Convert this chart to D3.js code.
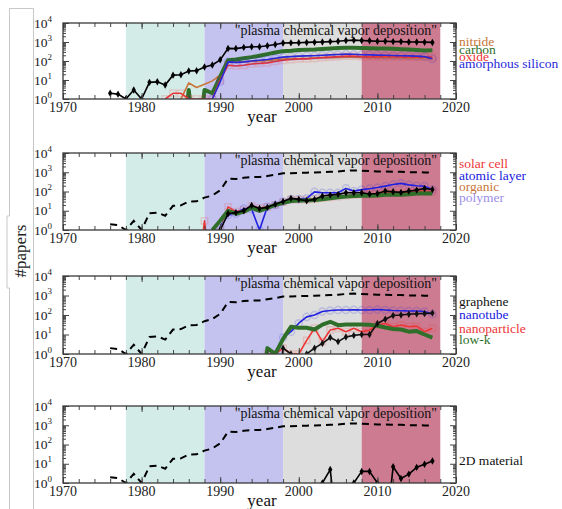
<!DOCTYPE html>
<html>
<head>
<meta charset="utf-8">
<script src="https://cdn.jsdelivr.net/npm/d3@7"></script>
<style>
  body { margin: 0; background: #fff; }
  svg { display: block; font-family: "Liberation Serif", "Times New Roman", serif; }
</style>
</head>
<body>
<script>
// ---- data ----
// total "plasma chemical vapor deposition" papers, 1976..2017
const totalStart = 1976;
const total = [2, 1.8, 1, 3, 1, 7.5, 8, 5.5, 18, 19, 30, 31, 48, 62, 115, 460, 450, 520, 560, 560,
  640, 740, 880, 900, 920, 950, 980, 1000, 1050, 1100, 1200, 1250, 1200, 1150, 1100, 1100,
  1050, 1050, 1000, 1000, 980, 950];

// panel 1, 1983..2017
const p1Start = 1983;
const nitride = [null, null, 1, 7, 4, 6, 9, 18, 100, 85, 90, 95, 100, 105, 115, 125, 130, 135, 140, 145,
  150, 150, 155, 160, 160, 155, 150, 150, 150, 145, 145, 140, 140, 140, 135];
const carbon = [null, null, 0, 3, 0, 3, 2, 15, 110, 120, 140, 160, 190, 230, 280, 330, 350, 380, 390, 400,
  430, 460, 480, 500, 500, 490, 470, 460, 460, 440, 420, 400, 380, 360, 370];
const oxide = [1, 2, 2, 1, 1, 1, 1, 10, 60, 55, 60, 70, 75, 80, 95, 110, 120, 130, 130, 140,
  150, 160, 170, 180, 180, 170, 165, 165, 170, 170, 165, 160, 160, 165, 160];
const amorphousSi = [null, null, null, null, null, null, 1, 8, 90, 85, 90, 100, 110, 120, 140, 160, 170, 180, 185, 190,
  200, 210, 220, 230, 225, 215, 210, 205, 200, 195, 190, 185, 180, 170, 130];

// panel 2, 1987..2017
const p2Start = 1987;
const solarCell = [0, 3, 0, 1, 16, 9, 11, 18, 14, 16, 20, 28, 38, 38, 38, 40, 45, 50, 55, 62,
  66, 70, 72, 75, 82, 85, 85, 90, 100, 105, 100];
const atomicLayer = [null, null, 0, 1.5, 6, 7, 13, 12, 1, 16, 20, 30, 40, 40, 44, 96, 86, 86, 86, 145,
  105, 125, 140, 160, 190, 230, 265, 220, 200, 190, 125];
const organic = [null, null, null, 1, 9, 7, 9, 13, 10, 13, 18, 24, 30, 32, 33, 35, 40, 45, 50, 54,
  57, 60, 60, 62, 66, 68, 68, 72, 76, 80, 78];
const polymer = [null, null, null, 1, 8, 6, 8, 12, 9, 12, 17, 22, 28, 30, 31, 33, 38, 42, 46, 50,
  53, 56, 57, 60, 64, 66, 66, 70, 74, 76, 74];
const p2Green = [null, null, 1, 3, 10, 7, 9, 14, 10, 14, 20, 26, 32, 34, 34, 36, 40, 45, 50, 55,
  58, 60, 60, 62, 68, 70, 68, 72, 78, 80, 78];
const p2Black = [null, null, null, 1, 7, 8, 10, 19, 13, 15, 22, 30, 44, 39, 33, 39, 58, 65, 71, 86,
  86, 86, 74, 79, 105, 97, 90, 105, 118, 144, 128];

// panel 3, 1995..2017
const p3Start = 1995;
const graphene = [null, null, 0, 2, 1, 0, 1, 2, 3.5, 7, 4.3, 7.5, 9, 10, 10, 37, 60, 95, 100, 110, 115, 120, 125];
const nanotube = [null, 0, 1, 7, 14, 38, 80, 100, 150, 170, 180, 180, 185, 180, 180, 190, 180, 170, 165, 160, 160, 150, 110];
const nanoparticle = [null, 1, 1, 2, 1, 1, 5, 21, 4.3, 17, 21, 14, 21, 14, 17, 31, 37, 25, 31, 25, 27, 14, 21];
const lowK = [0, 2, 1, 6, 25, 22, 22, 18, 32, 45, 30, 33, 33, 33, 32, 28, 23, 19, 18, 14, 15, 10, 7];

// panel 4, 2002..2017
const p4Start = 2002;
const material2D = [0, 1, 5, 0, 0, 1, 4, 4, 1, 0, 7, 1.7, 2.9, 6.5, 9.5, 14];

const eraBounds = [1978, 1988, 1998, 2008, 2018];
const eraColors = ['#d4ece8', '#c4c3ef', '#dcdddc', '#cd7b91'];
const xTickLabels = [1970, 1980, 1990, 2000, 2010, 2020];
const yTickValues = [1, 10, 100, 1000, 10000];

// ---- layout ----
const width = 562, height = 509;
const svg = d3.select('body').append('svg').attr('width', width).attr('height', height);

const x = d3.scaleLinear().domain([1970, 2020]).range([63, 456]);

const toPoints = (start, arr) => arr.map((v, i) => ({ year: start + i, v }));

const panels = [
  {
    top: 23, bottom: 99, totalStyle: 'solid',
    series: [
      { label: 'nitride', color: '#c8763a', data: toPoints(p1Start, nitride), w: 1.6 },
      { label: 'carbon', color: '#2f6f2a', data: toPoints(p1Start, carbon), w: 4 },
      { label: 'oxide', color: '#ee3535', data: toPoints(p1Start, oxide), w: 1.6, marker: 'square' },
      { label: 'amorphous silicon', color: '#2828d8', data: toPoints(p1Start, amorphousSi), w: 1.6, marker: 'circle' },
    ],
    legendY: [46, 53.5, 60.5, 67.5],
  },
  {
    top: 153, bottom: 230, totalStyle: 'dashed',
    series: [
      { label: 'solar cell', color: '#ee3535', data: toPoints(p2Start, solarCell), w: 1.6, marker: 'square' },
      { label: 'atomic layer', color: '#2020e0', data: toPoints(p2Start, atomicLayer), w: 1.6, marker: 'circle' },
      { label: 'organic', color: '#c8763a', data: toPoints(p2Start, organic), w: 1.6 },
      { label: 'polymer', color: '#9c8fe8', data: toPoints(p2Start, polymer), w: 1.6 },
      { label: null, color: '#2f6f2a', data: toPoints(p2Start, p2Green), w: 4 },
      { label: null, color: '#000', data: toPoints(p2Start, p2Black), w: 1.6, marker: 'diamond' },
    ],
    legendY: [168, 179.5, 190.5, 201.5],
  },
  {
    top: 276, bottom: 354, totalStyle: 'dashed',
    series: [
      { label: 'graphene', color: '#111', data: toPoints(p3Start, graphene), w: 1.6, marker: 'diamond', order: 3 },
      { label: 'nanotube', color: '#2020e0', data: toPoints(p3Start, nanotube), w: 1.6, marker: 'circle', order: 1 },
      { label: 'nanoparticle', color: '#ee3535', data: toPoints(p3Start, nanoparticle), w: 1.6, marker: 'square', order: 0 },
      { label: 'low-k', color: '#2f6f2a', data: toPoints(p3Start, lowK), w: 4, order: 2 },
    ],
    legendY: [306, 319, 332.5, 344],
  },
  {
    top: 406, bottom: 483, totalStyle: 'dashed',
    series: [
      { label: '2D material', color: '#000', data: toPoints(p4Start, material2D), w: 1.6, marker: 'diamond' },
    ],
    legendY: [465],
    legendColor: '#111',
  },
];

const minorY = [];
[1, 10, 100, 1000].forEach(d => { for (let k = 2; k <= 9; k++) minorY.push(d * k); });
const xTicks = d3.range(1970, 2021, 2);

const floorVal = 1e-3; // zero counts plunge off the bottom
const diamondSize = 16;

// left strip outline
svg.append('path')
  .attr('d', 'M9.5,509 V288 H7 V216 H9.5 V8.5 H33.5 V509')
  .attr('fill', 'none').attr('stroke', '#c8c8c8').attr('stroke-width', 1);
svg.append('text')
  .attr('transform', 'translate(26,251) rotate(-90)')
  .attr('text-anchor', 'middle')
  .attr('font-size', 17)
  .attr('fill', '#222')
  .text('#papers');

panels.forEach((p, i) => {
  const y = d3.scaleLog().domain([1, 1e4]).range([p.bottom, p.top]);
  const g = svg.append('g');
  const clipId = 'clip' + i;

  svg.append('clipPath').attr('id', clipId)
    .append('rect')
    .attr('x', x(1970)).attr('y', p.top)
    .attr('width', x(2020) - x(1970)).attr('height', p.bottom - p.top);

  // era backgrounds
  g.selectAll('rect.band')
    .data(eraColors)
    .enter()
    .append('rect')
    .attr('x', (d, j) => x(eraBounds[j]))
    .attr('width', (d, j) => x(eraBounds[j + 1]) - x(eraBounds[j]))
    .attr('y', p.top)
    .attr('height', p.bottom - p.top)
    .attr('fill', d => d);

  g.append('text')
    .attr('x', 437).attr('y', p.top + 11.5)
    .attr('text-anchor', 'end')
    .attr('font-size', 14)
    .attr('fill', '#111')
    .text('"plasma chemical vapor deposition"');

  const plot = g.append('g').attr('clip-path', `url(#${clipId})`);

  const line = d3.line()
    .defined(d => d.v != null)
    .x(d => x(d.year))
    .y(d => y(Math.max(d.v, floorVal)));

  // total line
  const totalData = toPoints(totalStart, total);
  plot.append('path')
    .datum(totalData)
    .attr('fill', 'none')
    .attr('stroke', '#000')
    .attr('stroke-width', p.totalStyle === 'solid' ? 1.6 : 2)
    .attr('stroke-dasharray', p.totalStyle === 'solid' ? null : '7,5')
    .attr('d', line);
  if (p.totalStyle === 'solid') {
    plot.append('g')
      .selectAll('path')
      .data(totalData)
      .enter()
      .append('path')
      .attr('transform', d => `translate(${x(d.year)},${y(d.v)})`)
      .attr('d', d3.symbol().type(d3.symbolDiamond).size(diamondSize))
      .attr('fill', '#000');
  }

  const ordered = p.series.slice().sort((a, b) => (a.order ?? 0) - (b.order ?? 0));
  ordered.forEach(s => {
    const pts = s.data.filter(d => d.v != null && d.v > 0);
    if (s.marker === 'square' || s.marker === 'circle') {
      plot.append('g')
        .selectAll('path')
        .data(pts)
        .enter()
        .append('path')
        .attr('transform', d => `translate(${x(d.year)},${y(d.v)})`)
        .attr('d', d3.symbol().type(s.marker === 'square' ? d3.symbolSquare : d3.symbolCircle).size(40))
        .attr('fill', 'none')
        .attr('stroke', s.color)
        .attr('stroke-opacity', 0.18)
        .attr('stroke-width', 1.5);
    }
    plot.append('path')
      .datum(s.data)
      .attr('fill', 'none')
      .attr('stroke', s.color)
      .attr('stroke-width', s.w)
      .attr('stroke-linejoin', 'round')
      .attr('d', line);
    if (s.marker === 'diamond') {
      plot.append('g')
        .selectAll('path')
        .data(pts)
        .enter()
        .append('path')
        .attr('transform', d => `translate(${x(d.year)},${y(d.v)})`)
        .attr('d', d3.symbol().type(d3.symbolDiamond).size(diamondSize))
        .attr('fill', s.color);
    }
  });

  // ticks, all pointing inward
  const tickAxis = (axis, tx, ty) => {
    const a = g.append('g').attr('transform', `translate(${tx},${ty})`).call(axis);
    a.select('.domain').remove();
    a.selectAll('line').attr('stroke', '#444').attr('stroke-width', 1);
    a.selectAll('text').remove();
  };
  tickAxis(d3.axisRight(y).tickValues(minorY).tickSize(3), x(1970), 0);
  tickAxis(d3.axisRight(y).tickValues(yTickValues).tickSize(6), x(1970), 0);
  tickAxis(d3.axisLeft(y).tickValues(minorY).tickSize(3), x(2020), 0);
  tickAxis(d3.axisLeft(y).tickValues(yTickValues).tickSize(6), x(2020), 0);
  tickAxis(d3.axisTop(x).tickValues(xTicks).tickSize(4), 0, p.bottom);
  tickAxis(d3.axisTop(x).tickValues(xTickLabels).tickSize(6), 0, p.bottom);
  tickAxis(d3.axisBottom(x).tickValues(xTicks).tickSize(4), 0, p.top);
  tickAxis(d3.axisBottom(x).tickValues(xTickLabels).tickSize(6), 0, p.top);

  g.append('rect')
    .attr('x', x(1970)).attr('y', p.top)
    .attr('width', x(2020) - x(1970)).attr('height', p.bottom - p.top)
    .attr('fill', 'none').attr('stroke', '#3a3a3a').attr('stroke-width', 1.3);

  // y tick labels 10^n
  const yl = g.selectAll('text.ylab')
    .data(yTickValues)
    .enter()
    .append('text')
    .attr('class', 'ylab')
    .attr('x', 34)
    .attr('y', d => y(d) + 4.5)
    .attr('font-size', 13.5)
    .attr('fill', '#222');
  yl.append('tspan').text('10');
  yl.append('tspan').attr('dy', -6).attr('font-size', 9).text(d => Math.round(Math.log10(d)));

  // x tick labels
  g.selectAll('text.xlab')
    .data(xTickLabels)
    .enter()
    .append('text')
    .attr('x', d => x(d))
    .attr('y', p.bottom + 13)
    .attr('text-anchor', 'middle')
    .attr('font-size', 14)
    .attr('fill', '#222')
    .text(d => d);

  g.append('text')
    .attr('x', 262).attr('y', p.bottom + 23)
    .attr('text-anchor', 'middle')
    .attr('font-size', 17)
    .attr('fill', '#111')
    .text('year');

  // legend labels
  p.series.filter(s => s.label).forEach((s, j) => {
    g.append('text')
      .attr('x', 459).attr('y', p.legendY[j])
      .attr('font-size', 13.5)
      .attr('fill', p.legendColor || s.color)
      .text(s.label);
  });
});
</script>
</body>
</html>
